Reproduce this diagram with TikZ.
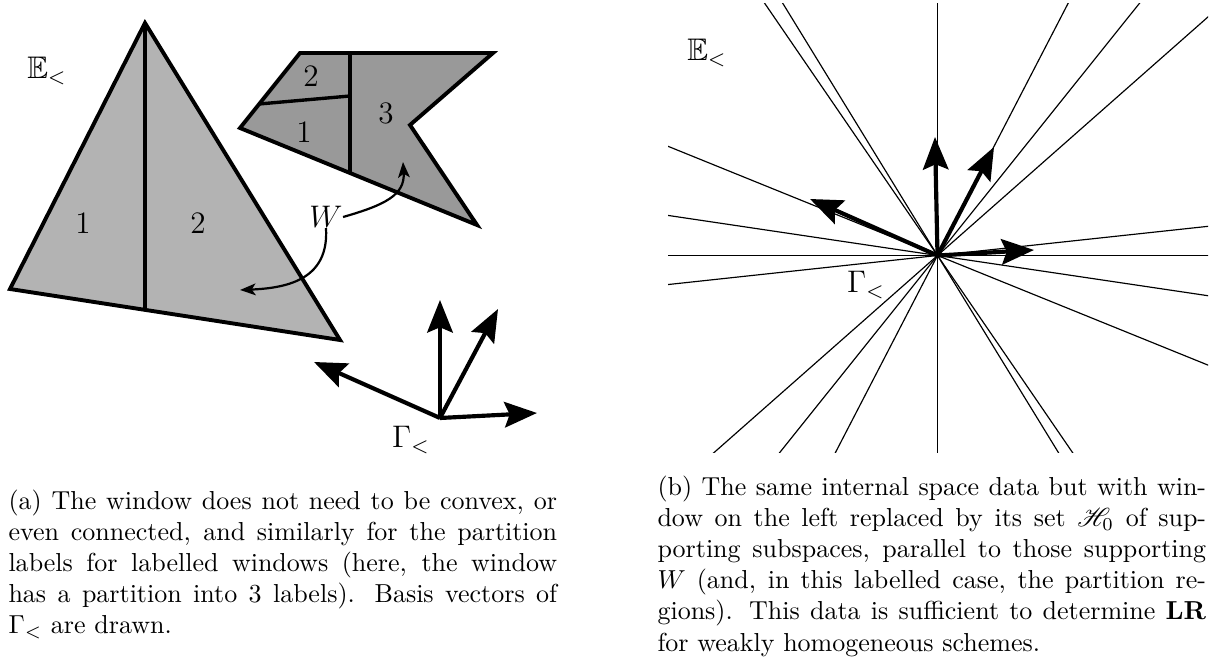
\documentclass[tikz,border=0pt]{standalone}
\usepackage{amssymb}
\usepackage{mathrsfs}
\usetikzlibrary{arrows.meta}
\definecolor{triA}{RGB}{179,179,179}
\definecolor{polyB}{RGB}{153,153,153}
\begin{document}
\begin{tikzpicture}[x=0.3846pt,y=-0.3846pt,
  edge/.style={line width=1.5pt, line join=miter},
  part/.style={line width=1.3pt},
  vec/.style={line width=1.6pt, -{Stealth[length=12.5pt,width=9.8pt,inset=2pt]}},
  warrow/.style={line width=0.85pt, -{Stealth[length=6pt,width=4.5pt,inset=1.5pt]}},
  lab/.style={inner sep=0pt, font=\fontsize{12}{14}\selectfont},
  captxt/.style={inner sep=0pt, anchor=north west, text width=211pt, align=justify, font=\fontsize{10}{12}\selectfont},
  sub/.style={line width=0.45pt}]
\useasboundingbox (0,0) rectangle (1218,659);

% ---------- left panel: triangle ----------
\coordinate (tA) at (145,23);
\coordinate (tB) at (10,289);
\coordinate (tC) at (340,340);
\coordinate (tM) at (145,309.5);
\fill[triA] (tA) -- (tB) -- (tC) -- cycle;
\draw[part] (tA) -- (tM);
\draw[edge] (tA) -- (tB) -- (tC) -- cycle;

% ---------- left panel: non-convex polygon ----------
\coordinate (p1) at (300,53);
\coordinate (p2) at (493,53);
\coordinate (p3) at (410,125);
\coordinate (p4) at (477,225);
\coordinate (p5) at (240,128);
\coordinate (q1) at (350,53);
\coordinate (q2) at (350,173);
\coordinate (r1) at (259.2,104);
\coordinate (r2) at (350,96);
\fill[polyB] (p1) -- (p2) -- (p3) -- (p4) -- (p5) -- cycle;
\draw[part] (q1) -- (q2);
\draw[part] (r1) -- (r2);
\draw[edge] (p1) -- (p2) -- (p3) -- (p4) -- (p5) -- cycle;

% labels
\node[lab] (Eleft) at (47,71) {$\mathbb{E}_<$};
\node[lab] (t1) at (83,223) {$1$};
\node[lab] (t2) at (198,223) {$2$};
\node[lab] (w2) at (311,76) {$2$};
\node[lab] (w1) at (304,132) {$1$};
\node[lab] (w3) at (386,113) {$3$};
\node[lab] (W) at (326,217) {$W$};

% W arrows
\coordinate (wt1) at (403,162);
\coordinate (wt2) at (240,290);
\draw[warrow] (W.east) .. controls (385,205) and (405,195) .. (wt1);
\draw[warrow] (W.south) .. controls (329,278) and (290,288) .. (wt2);

% basis vectors (left)
\coordinate (oL) at (440,418);
\coordinate (vL1) at (440,300);
\coordinate (vL2) at (498,309);
\coordinate (vL3) at (314,362);
\coordinate (vL4) at (537,413);
\draw[vec] (oL) -- (vL1);
\draw[vec] (oL) -- (vL2);
\draw[vec] (oL) -- (vL3);
\draw[vec] (oL) -- (vL4);
\node[lab] (GL) at (411,440) {$\Gamma_<$};

% ---------- right panel ----------
\begin{scope}
\clip (668,4) rectangle (1208,453);
\foreach \dx/\dy in {0/251, 269/0, -172/-251, -154/-251, 130/-251, 201/-251, 271/-239, -269/-109, -269/-40, -269/29}{
  \draw[sub] ({937.5-3*(\dx)},{255.5-3*(\dy)}) -- ({937.5+3*(\dx)},{255.5+3*(\dy)});
}
\end{scope}
\coordinate (oR) at (937.5,255.5);
\coordinate (vR1) at (935,137);
\coordinate (vR2) at (994,147);
\coordinate (vR3) at (810,199);
\coordinate (vR4) at (1034,250);
\draw[vec] (oR) -- (vR1);
\draw[vec] (oR) -- (vR2);
\draw[vec] (oR) -- (vR3);
\draw[vec] (oR) -- (vR4);
\node[lab] (Eright) at (707,53) {$\mathbb{E}_<$};
\node[lab] (GR) at (866,285) {$\Gamma_<$};

% ---------- captions ----------
\node[captxt] (capa) at (8,489) {(a) The window does not need to be convex, or\linebreak even connected, and similarly for the partition\linebreak labels for labelled windows (here, the window\linebreak has a partition into 3 labels). Basis vectors of\linebreak $\Gamma_<$ are drawn.};
\node[captxt] (capb) at (657,475) {(b) The same internal space data but with win-\linebreak dow on the left replaced by its set $\mathscr{H}_0$ of sup-\linebreak porting subspaces, parallel to those supporting\linebreak $W$ (and, in this labelled case, the partition re-\linebreak gions). This data is sufficient to determine \textbf{LR}\linebreak for weakly homogeneous schemes.};
\end{tikzpicture}
\end{document}
